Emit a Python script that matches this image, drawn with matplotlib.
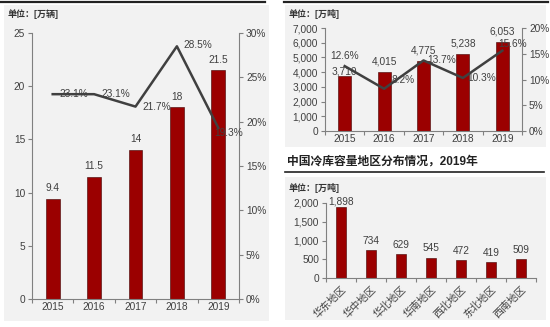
import matplotlib
matplotlib.use("Agg")
import matplotlib.pyplot as plt
from matplotlib.patches import Rectangle
from matplotlib.lines import Line2D
import numpy as np

plt.rcParams['font.family'] = ['Liberation Sans', 'Noto Sans CJK SC', 'DejaVu Sans']

# ---- data ----
years = ['2015', '2016', '2017', '2018', '2019']
vehicles = [9.4, 11.5, 14, 18, 21.5]
vehicle_growth = [23.1, 23.1, 21.7, 28.5, 19.3]
vehicle_ticks = [0, 5, 10, 15, 20, 25]
vehicle_pct_ticks = [0, 5, 10, 15, 20, 25, 30]

capacity = [3710, 4015, 4775, 5238, 6053]
capacity_growth = [12.6, 8.2, 13.7, 10.3, 15.6]
capacity_ticks = [0, 1000, 2000, 3000, 4000, 5000, 6000, 7000]
capacity_pct_ticks = [0, 5, 10, 15, 20]

regions = ['华东地区', '华中地区', '华北地区', '华南地区', '西北地区', '东北地区', '西南地区']
region_capacity = [1898, 734, 629, 545, 472, 419, 509]
region_ticks = [0, 500, 1000, 1500, 2000]

unit_left = '单位：[万辆]'
unit_right = '单位：[万吨]'
title_br = '中国冷库容量地区分布情况，2019年'

W, H = 550, 327
BAR = '#9B0000'
LINE = '#404040'
TXT = '#404040'
SPINE = '#808080'
BG = '#F2F2F2'
FS = 7.3

fig = plt.figure(figsize=(5.5, 3.27), dpi=100)
fig.patch.set_facecolor('white')

def rect(x0, y0, x1, y1):
    fig.patches.append(Rectangle((x0 / W, 1 - y1 / H), (x1 - x0) / W, (y1 - y0) / H,
                                 transform=fig.transFigure, facecolor=BG, edgecolor='none', zorder=-10))

def hline(x0, x1, y, lw=1.6):
    fig.lines.append(Line2D([x0 / W, x1 / W], [1 - y / H, 1 - y / H], transform=fig.transFigure,
                            color='#222222', lw=lw, zorder=-5))

rect(4, 5, 269, 321)
rect(285, 5, 546, 147)
rect(285, 177, 546, 320)
hline(0, 265, 1.5)
hline(284, 548, 1.5)
hline(285, 544, 172, lw=1.2)

def ax_rect(x0, y0, x1, y1):
    return [x0 / W, 1 - y1 / H, (x1 - x0) / W, (y1 - y0) / H]

def style(ax, right=False):
    ax.set_facecolor('none')
    ax.spines['top'].set_visible(False)
    if right:
        ax.spines['left'].set_visible(False)
        ax.spines['bottom'].set_visible(False)
        ax.spines['right'].set_color(SPINE)
    else:
        ax.spines['right'].set_visible(False)
        ax.spines['left'].set_color(SPINE)
        ax.spines['bottom'].set_color(SPINE)
    ax.tick_params(colors=SPINE, labelcolor=TXT, labelsize=FS, length=3, width=0.8, pad=2)

def cat_ticks(ax, n):
    ax.set_xticks(np.arange(n))
    ax.set_xticks(np.arange(n + 1) - 0.5, minor=True)
    ax.tick_params(axis='x', which='major', length=0)
    ax.tick_params(axis='x', which='minor', length=3, color=SPINE, width=0.8)

# ---- left chart ----
ax1 = fig.add_axes(ax_rect(32, 33, 239, 299))
style(ax1)
x = np.arange(len(years))
ax1.bar(x, vehicles, width=0.33, color=BAR, edgecolor='#400000', linewidth=0.4, zorder=2)
ax1.set_xlim(-0.5, len(years) - 0.5)
ax1.set_ylim(0, 25)
ax1.set_yticks(vehicle_ticks)
cat_ticks(ax1, len(years))
ax1.set_xticklabels(years)
for xi, v in zip(x, vehicles):
    ax1.annotate(f'{v:g}', (xi, v), xytext=(0, 4), textcoords='offset points',
                 ha='center', va='bottom', fontsize=FS, color=TXT)
ax1b = ax1.twinx()
style(ax1b, right=True)
ax1b.set_ylim(0, 30)
ax1b.set_yticks(vehicle_pct_ticks)
ax1b.set_yticklabels([f'{t}%' for t in vehicle_pct_ticks])
ax1b.plot(x, vehicle_growth, color=LINE, lw=1.8, zorder=3)
left_off = [(5, 0), (5, 0), (5, 0), (5, 1), (-3, -4)]
for xi, v, (dx, dy) in zip(x, vehicle_growth, left_off):
    ax1b.annotate(f'{v}%', (xi, v), xytext=(dx, dy), textcoords='offset points',
                  ha='left', va='center', fontsize=FS, color=TXT)
fig.text(8 / W, 1 - 14 / H, unit_left, fontsize=6.5, fontweight='bold', color='#333333', va='center')

# ---- right top chart ----
ax2 = fig.add_axes(ax_rect(325, 28, 522, 131))
style(ax2)
ax2.bar(x, capacity, width=0.33, color=BAR, edgecolor='#400000', linewidth=0.4, zorder=2)
ax2.set_xlim(-0.5, len(years) - 0.5)
ax2.set_ylim(0, 7000)
ax2.set_yticks(capacity_ticks)
ax2.set_yticklabels([f'{t:,}' for t in capacity_ticks])
cat_ticks(ax2, len(years))
ax2.set_xticklabels(years)
bar_off = [0, 4, 4, 4, 4]
for xi, v, o in zip(x, capacity, bar_off):
    ax2.annotate(f'{v:,}', (xi, v), xytext=(0, o), textcoords='offset points',
                 ha='center', va='bottom', fontsize=FS, color=TXT)
ax2b = ax2.twinx()
style(ax2b, right=True)
ax2b.set_ylim(0, 20)
ax2b.set_yticks(capacity_pct_ticks)
ax2b.set_yticklabels([f'{t}%' for t in capacity_pct_ticks])
ax2b.plot(x, capacity_growth, color=LINE, lw=1.8, zorder=3)
lab_off = [(0, 7, 'center'), (5, 6, 'left'), (3, 0, 'left'), (3.5, 0, 'left'), (-3, 5, 'left')]
for xi, v, (dx, dy, ha) in zip(x, capacity_growth, lab_off):
    ax2b.annotate(f'{v}%', (xi, v), xytext=(dx, dy), textcoords='offset points',
                  ha=ha, va='center', fontsize=FS, color=TXT)
fig.text(289 / W, 1 - 14 / H, unit_right, fontsize=6.5, fontweight='bold', color='#333333', va='center')

# ---- title ----
fig.text(287 / W, 1 - 162 / H, title_br, fontsize=8.5, fontweight='bold', color='#222222', va='center')

# ---- bottom right chart ----
ax3 = fig.add_axes(ax_rect(326, 203, 536, 278))
style(ax3)
xr = np.arange(len(regions))
ax3.bar(xr, region_capacity, width=0.33, color=BAR, edgecolor='#400000', linewidth=0.4, zorder=2)
ax3.set_xlim(-0.5, len(regions) - 0.5)
ax3.set_ylim(0, 2000)
ax3.set_yticks(region_ticks)
ax3.set_yticklabels([f'{t:,}' for t in region_ticks])
cat_ticks(ax3, len(regions))
ax3.set_xticklabels(regions, rotation=45, ha='right', rotation_mode='anchor', fontsize=FS)
ax3.tick_params(axis='x', pad=4)
for xi, v in zip(xr, region_capacity):
    ax3.annotate(f'{v:,}', (xi, v), xytext=(0, 3 if v < 1800 else 0), textcoords='offset points',
                 ha='center', va='bottom', fontsize=FS, color=TXT)
fig.text(289 / W, 1 - 188 / H, unit_right, fontsize=6.5, fontweight='bold', color='#333333', va='center')

fig.savefig('out.png', dpi=100)
